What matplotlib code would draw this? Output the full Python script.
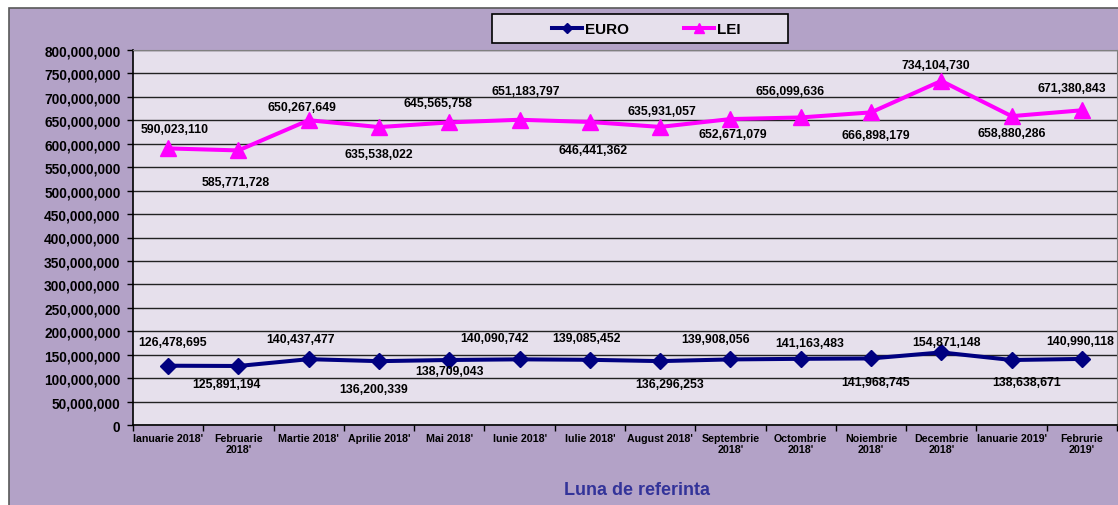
import matplotlib.pyplot as plt
import matplotlib.patches as patches
from matplotlib.ticker import FuncFormatter, MultipleLocator, FixedLocator
import numpy as np

# date
luni = ["Ianuarie 2018'", "Februarie\n2018'", "Martie 2018'", "Aprilie 2018'",
        "Mai 2018'", "Iunie 2018'", "Iulie 2018'", "August 2018'",
        "Septembrie\n2018'", "Octombrie\n2018'", "Noiembrie\n2018'",
        "Decembrie\n2018'", "Ianuarie 2019'", "Februrie\n2019'"]
euro = [126478695, 125891194, 140437477, 136200339, 138709043, 140090742,
        139085452, 136296253, 139908056, 141163483, 141968745, 154871148,
        138638671, 140990118]
lei = [590023110, 585771728, 650267649, 635538022, 645565758, 651183797,
       646441362, 635931057, 652671079, 656099636, 666898179, 734104730,
       658880286, 671380843]

# pozitia etichetelor (pixeli fata de punct, y in jos pozitiv)
lei_off = [(6, -19), (-3, 32), (-7, -13), (0, 27), (-11, -19), (6, -29),
           (3, 28), (2, -16), (2, 15), (-11, -26), (5, 23), (-5, -16),
           (0, 17), (-10, -22)]
euro_off = [(4, -24), (-12, 18), (-8, -20), (-5, 28), (0, 11), (-25, -21),
            (-3, -22), (9, 23), (-15, -20), (9, -16), (5, 24), (5, -10),
            (15, 22), (-2, -18)]

mov = "#B3A2C7"
mov_deschis = "#E6E0EC"
c_euro = "#000080"
c_lei = "#FF00FF"

W, H = 1118, 506
plt.rcParams['font.family'] = ['Liberation Sans', 'DejaVu Sans']
fig = plt.figure(figsize=(W / 100, H / 100), dpi=100)
fig.patch.set_facecolor("white")

# fundalul graficului
fig.patches.append(patches.Rectangle((9 / W, -0.01), 1.0, 1.01 - 9 / H, transform=fig.transFigure,
                                     facecolor=mov, edgecolor="#595959", linewidth=1.2, zorder=-5))
# cadrul legendei
fig.patches.append(patches.Rectangle((492 / W, 1 - 44 / H), 296 / W, 29 / H, transform=fig.transFigure,
                                     facecolor=mov_deschis, edgecolor="black", linewidth=1.2, zorder=-4))

ax = fig.add_axes([133 / W, 1 - 426 / H, (1117 - 133) / W, (426 - 51) / H])
ax.set_facecolor(mov_deschis)

x = np.arange(len(luni))
ax.plot(x, euro, color=c_euro, lw=2.9, marker="D", ms=8, label="EURO", zorder=3)
ax.plot(x, lei, color=c_lei, lw=2.9, marker="^", ms=11, label="LEI", zorder=3)

for i in range(len(x)):
    ax.annotate(f"{lei[i]:,}", (x[i], lei[i]), xytext=(lei_off[i][0], -lei_off[i][1]),
                textcoords="offset pixels", ha="center", va="center",
                fontsize=8.8, fontweight="bold")
    ax.annotate(f"{euro[i]:,}", (x[i], euro[i]), xytext=(euro_off[i][0], -euro_off[i][1]),
                textcoords="offset pixels", ha="center", va="center",
                fontsize=8.8, fontweight="bold")

ax.set_xlim(-0.5, len(luni) - 0.5)
ax.set_ylim(0, 800000000)
ax.yaxis.set_major_locator(MultipleLocator(50000000))
ax.yaxis.set_major_formatter(FuncFormatter(lambda v, p: f"{int(v):,}"))
ax.grid(axis="y", color="#222222", lw=1.0)
ax.set_axisbelow(True)

ax.set_xticks(x)
ax.set_xticklabels(luni, fontsize=7.7, fontweight="bold", linespacing=1.1)
ax.xaxis.set_minor_locator(FixedLocator(np.arange(-0.5, len(luni), 1)))
ax.tick_params(axis="x", which="major", length=0, pad=6)
ax.tick_params(axis="x", which="minor", length=4, width=1)
ax.tick_params(axis="y", length=4, width=1, pad=5, labelsize=9.9)
for t in ax.get_yticklabels():
    t.set_fontweight("bold")

for s in ["top", "right"]:
    ax.spines[s].set_color("#808080")
ax.spines["left"].set_color("black")
ax.spines["bottom"].set_color("black")
ax.spines["left"].set_linewidth(1.2)
ax.spines["bottom"].set_linewidth(1.2)

fig.text(637 / W, 1 - 491 / H, "Luna de referinta", ha="center", va="center",
         fontsize=13, fontweight="bold", color="#333399")

fig.legend(loc="center", bbox_to_anchor=(646 / W, 1 - 30 / H), ncol=2, frameon=False,
           markerscale=0.6, handlelength=2.0, handletextpad=0.15, columnspacing=3.6,
           borderaxespad=0, prop={"weight": "bold", "size": 11})

fig.savefig("out.png", dpi=100)
